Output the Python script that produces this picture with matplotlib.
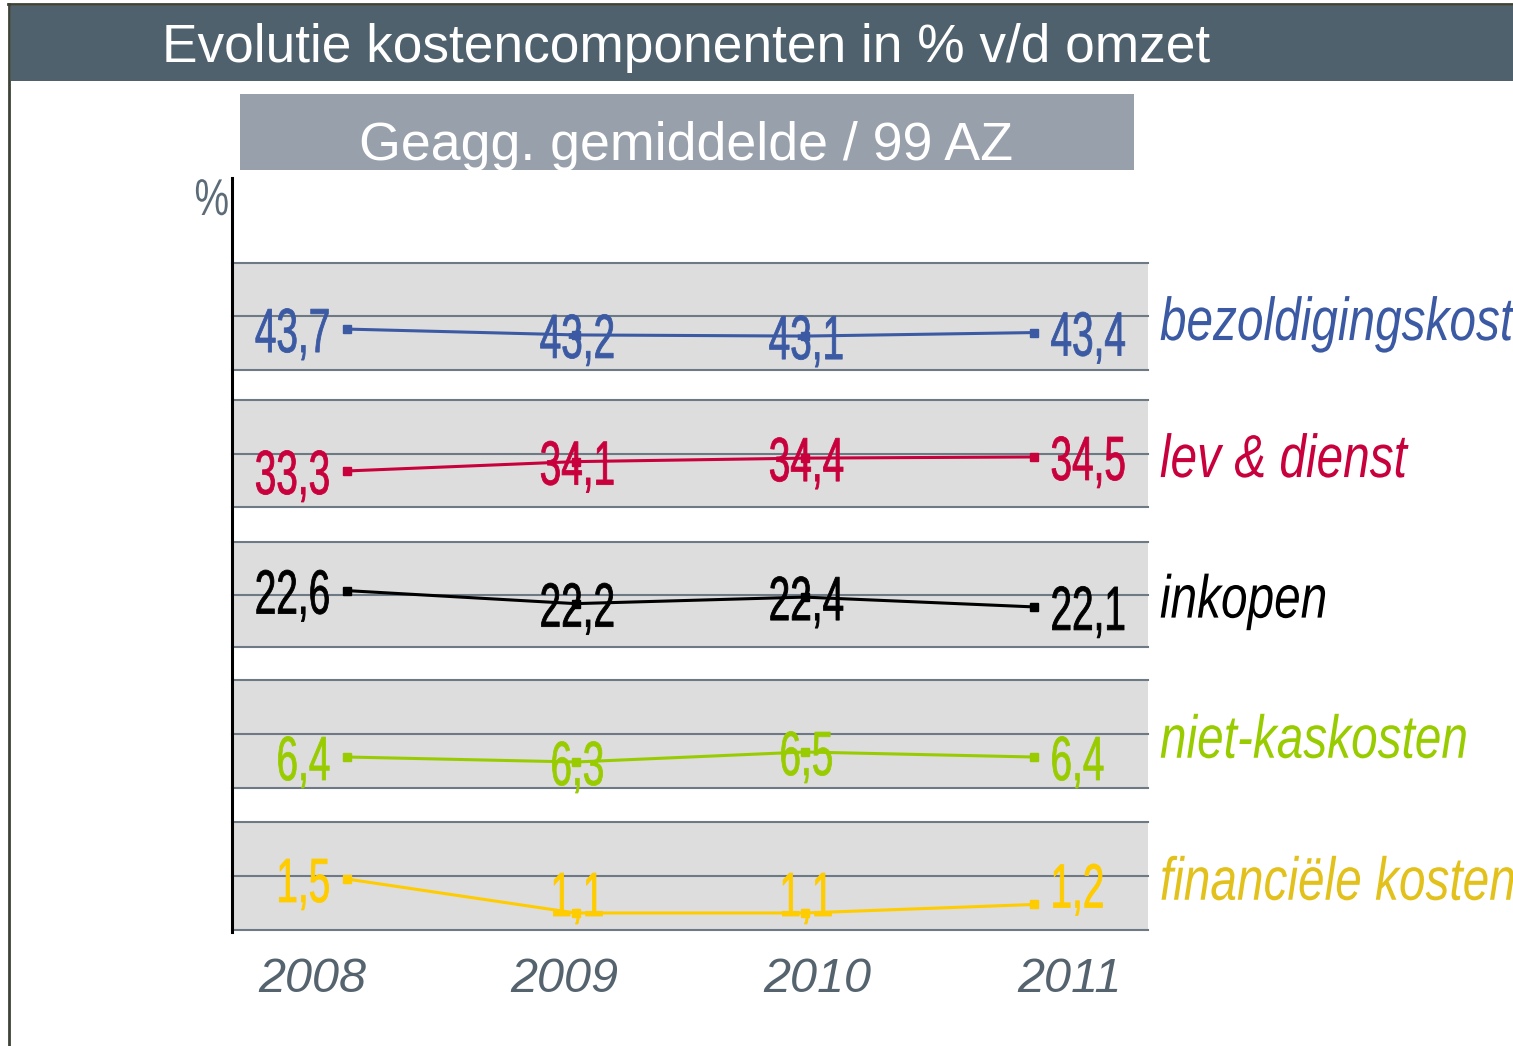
import numpy as np
import matplotlib
matplotlib.use('Agg')
import matplotlib.pyplot as plt
from matplotlib import transforms
from matplotlib.patches import Rectangle
from matplotlib.lines import Line2D
from matplotlib.patheffects import AbstractPathEffect

# data
years = ['2008', '2009', '2010', '2011']
bezoldigingskost = [43.7, 43.2, 43.1, 43.4]
lev_dienst = [33.3, 34.1, 34.4, 34.5]
inkopen = [22.6, 22.2, 22.4, 22.1]
niet_kaskosten = [6.4, 6.3, 6.5, 6.4]
financiele_kosten = [1.5, 1.1, 1.1, 1.2]

series = [bezoldigingskost, lev_dienst, inkopen, niet_kaskosten, financiele_kosten]
names = ['bezoldigingskost', 'lev & dienst', 'inkopen', 'niet-kaskosten', 'financiële kosten']
line_colors = ['#3b5aa3', '#c8003c', '#000000', '#99cc00', '#ffcc00']
name_colors = ['#3b5aa3', '#c8003c', '#000000', '#99cc00', '#e3c11c']

title = 'Evolutie kostencomponenten in % v/d omzet'
subtitle = 'Geagg. gemiddelde / 99 AZ'

# layout (pixels of the 1513x1046 canvas)
W, H = 1513, 1046
band_px = [(263, 370), (400, 507), (542, 647), (680, 788), (822, 930)]
band_ylim = [(40.2, 49.35), (30.22, 39.37), (20.87, 24.09), (5.78, 7.94), (0.9, 2.17)]
sans = ['Liberation Sans', 'DejaVu Sans']


class Tall(AbstractPathEffect):
    """Stretch text upward from its baseline, to mimic the condensed face of the original."""

    def __init__(self, sy, lw=0.0):
        super().__init__()
        self.sy = sy
        self.lw = lw

    def draw_path(self, renderer, gc, tpath, affine, rgbFace=None):
        pre = transforms.Affine2D().scale(1, self.sy)
        gc0 = renderer.new_gc()
        gc0.copy_properties(gc)
        if self.lw > 0:
            gc0.set_linewidth(self.lw)
            gc0.set_foreground(rgbFace)
        renderer.draw_path(gc0, tpath, pre + affine, rgbFace)
        gc0.restore()


def fx(x):
    return x / W


def fy(y):
    return 1 - y / H


def fmt(v):
    return f'{v:.1f}'.replace('.', ',')


fig = plt.figure(figsize=(W / 100, H / 100), dpi=100)

# outer frame and title bar
fig.add_artist(Line2D([fx(9), fx(9)], [fy(4), 0], color='#3d4338', lw=2))
fig.add_artist(Line2D([fx(8), 1], [fy(4), fy(4)], color='#3d4338', lw=2))
fig.add_artist(Rectangle((fx(11), fy(81)), 1 - fx(11), (81 - 6) / H,
                         transform=fig.transFigure, color='#4f616d', lw=0))
fig.text(fx(162), fy(62), title, color='white', fontsize=38.3, family=sans, va='baseline')

fig.add_artist(Rectangle((fx(240), fy(170)), fx(1134) - fx(240), (170 - 94) / H,
                         transform=fig.transFigure, color='#98a0ab', lw=0))
fig.text(fx(686), fy(160), subtitle, color='white', fontsize=38.7, family=sans,
         ha='center', va='baseline')

x = np.arange(len(years))
axes = []
for i, vals in enumerate(series):
    top, bot = band_px[i]
    ax = fig.add_axes([fx(232), fy(bot), fx(1148) - fx(232), (bot - top) / H])
    lo, hi = band_ylim[i]
    ax.set_xlim(-0.5, 3.5)
    ax.set_ylim(lo, hi)
    ax.set_facecolor('#dddddd')
    for s in ax.spines.values():
        s.set_visible(False)
    ax.set_xticks([])
    ax.set_yticks([])
    for yl in (lo, (lo + hi) / 2, hi):
        ax.axhline(yl, color='#6d7a85', lw=1.5, clip_on=False, zorder=1)
    ax.plot(x, vals, color=line_colors[i], lw=2.2, marker='s', ms=6,
            clip_on=False, zorder=3)
    for j, v in enumerate(vals):
        if j == 0:
            dx, ha = -16, 'right'
        elif j == len(vals) - 1:
            dx, ha = 17, 'left'
        else:
            dx, ha = 2, 'center'
        dy = -23
        if i == len(series) - 1 and j > 0:
            dy = -3
        ax.annotate(fmt(v), (x[j], v), xytext=(dx, dy), textcoords='offset pixels',
                    ha=ha, va='baseline', fontsize=27.9, family=sans,
                    color=line_colors[i], annotation_clip=False, zorder=4,
                    path_effects=[Tall(1.61, lw=0.6)])
    ax.text(1.013, 0.28, names[i], transform=ax.transAxes, fontsize=34.4,
            style='italic', family=sans, color=name_colors[i],
            va='baseline', clip_on=False, path_effects=[Tall(1.27)])
    axes.append(ax)

# year labels under the last band
trans = transforms.blended_transform_factory(axes[-1].transData, fig.transFigure)
for j, yr in enumerate(years):
    axes[-1].text(-0.15 + 1.103 * j, fy(992), yr, transform=trans, ha='center',
                  va='baseline', fontsize=35, style='italic', family=sans,
                  color='#55636e', clip_on=False)

# y axis and unit
fig.add_artist(Line2D([fx(232), fx(232)], [fy(178), fy(932)], color='black', lw=2.2))
fig.text(fx(229), fy(215), '%', ha='right', va='baseline', fontsize=28,
         family=sans, color='#5b6b78', path_effects=[Tall(1.33)])

fig.savefig('out.png', dpi=100)
